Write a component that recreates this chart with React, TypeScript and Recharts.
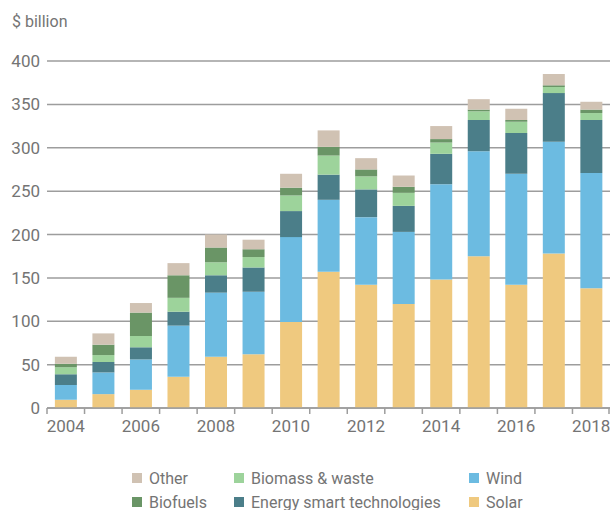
import React from "react";
import { BarChart, Bar, XAxis, YAxis, CartesianGrid } from "recharts";

const YEARS = [
  "2004", "2005", "2006", "2007", "2008", "2009", "2010", "2011",
  "2012", "2013", "2014", "2015", "2016", "2017", "2018",
];

// $ billion, bottom of the stack first
const SOLAR = [9.5, 16, 21, 36, 59, 62, 99, 157, 142, 120, 148, 175, 142, 178, 138];
const WIND = [17, 25, 35, 59, 74, 72, 98, 83, 78, 83, 110, 121, 128, 129, 133];
const SMART = [12.5, 12, 14, 16, 20, 28, 30, 29, 32, 30, 35, 36, 47, 56, 61];
const BIOMASS = [8, 8, 13, 16, 15, 12, 18, 22, 15, 15, 13, 10, 13, 7, 8];
const BIOFUELS = [4, 12, 27, 26, 17, 9, 9, 10, 8, 7, 4, 2, 2, 2, 4];
const OTHER = [8, 13, 11, 14, 15, 11, 16, 19, 13, 13, 15, 12, 13, 13, 9];

const Y_TICKS = [0, 50, 100, 150, 200, 250, 300, 350, 400];

const SERIES = [
  { key: "solar", name: "Solar", color: "#efc97f" },
  { key: "wind", name: "Wind", color: "#6cbbe1" },
  { key: "smart", name: "Energy smart technologies", color: "#4b7e89" },
  { key: "biomass", name: "Biomass & waste", color: "#9dd39b" },
  { key: "biofuels", name: "Biofuels", color: "#6a9566" },
  { key: "other", name: "Other", color: "#d0c2b3" },
];

// legend reads row by row: Other / Biomass / Wind, then Biofuels / Smart / Solar
const LEGEND_ROWS = [
  ["other", "biomass", "wind"],
  ["biofuels", "smart", "solar"],
];
const LEGEND_COLS = [132, 234, 469];

const data = YEARS.map((year, i) => ({
  year,
  solar: SOLAR[i],
  wind: WIND[i],
  smart: SMART[i],
  biomass: BIOMASS[i],
  biofuels: BIOFUELS[i],
  other: OTHER[i],
}));

const FONT = "Roboto, 'Noto Sans', sans-serif";
const TEXT = "#747474";
const GRID = "#9d9d9d";

const CHART_W = 610;
const CHART_H = 440;
const Y_AXIS_W = 47;
const STEP = (CHART_W - Y_AXIS_W) / YEARS.length;

function YTick(props: any) {
  const { y, payload } = props;
  return (
    <text x={40} y={y + 6} textAnchor="end" fill={TEXT} fontSize={17} fontFamily={FONT}>
      {payload.value}
    </text>
  );
}

function XTick(props: any) {
  const { x, y, payload, index } = props;
  const showLabel = index % 2 === 0;
  const left = x - STEP / 2;
  const right = x + STEP / 2;
  return (
    <g>
      <line x1={left} x2={left} y1={y - 8} y2={y - 2} stroke={GRID} strokeWidth={1.5} />
      {index === YEARS.length - 1 && (
        <line x1={right - 1} x2={right - 1} y1={y - 8} y2={y - 2} stroke={GRID} strokeWidth={1.5} />
      )}
      {showLabel && (
        <text x={x} y={y + 16} textAnchor="middle" fill={TEXT} fontSize={17} fontFamily={FONT}>
          {payload.value}
        </text>
      )}
    </g>
  );
}

export default function App() {
  const byKey = Object.fromEntries(SERIES.map((s) => [s.key, s]));
  return (
    <div
      style={{
        position: "absolute",
        left: 0,
        top: 0,
        width: 610,
        height: 510,
        background: "#fff",
        fontFamily: FONT,
      }}
    >
      <div
        style={{
          position: "absolute",
          left: 12,
          top: 12,
          fontSize: 16,
          color: TEXT,
          lineHeight: "20px",
        }}
      >
        $ billion
      </div>
      <BarChart
        width={CHART_W}
        height={CHART_H}
        data={data}
        margin={{ top: 61, right: 0, left: 0, bottom: 2 }}
        barCategoryGap="21%"
      >
        <CartesianGrid vertical={false} stroke={GRID} strokeWidth={1.5} />
        <XAxis
          dataKey="year"
          height={30}
          interval={0}
          tickLine={false}
          tickSize={6}
          tickMargin={2}
          axisLine={{ stroke: GRID, strokeWidth: 1.5 }}
          tick={<XTick />}
        />
        <YAxis
          width={Y_AXIS_W}
          domain={[0, 400]}
          ticks={Y_TICKS}
          axisLine={false}
          tickLine={false}
          tick={<YTick />}
        />
        {SERIES.map((s) => (
          <Bar
            key={s.key}
            dataKey={s.key}
            name={s.name}
            stackId="a"
            fill={s.color}
            isAnimationActive={false}
          />
        ))}
      </BarChart>
      {LEGEND_ROWS.map((row, r) =>
        row.map((key, c) => (
          <div
            key={key}
            style={{
              position: "absolute",
              left: LEGEND_COLS[c],
              top: 467 + r * 24,
              height: 22,
              display: "flex",
              alignItems: "center",
              fontSize: 16,
              color: TEXT,
              whiteSpace: "nowrap",
            }}
          >
            <span
              style={{
                display: "inline-block",
                width: 10,
                height: 10,
                background: byKey[key].color,
                marginRight: 7,
              }}
            />
            {byKey[key].name}
          </div>
        ))
      )}
    </div>
  );
}
